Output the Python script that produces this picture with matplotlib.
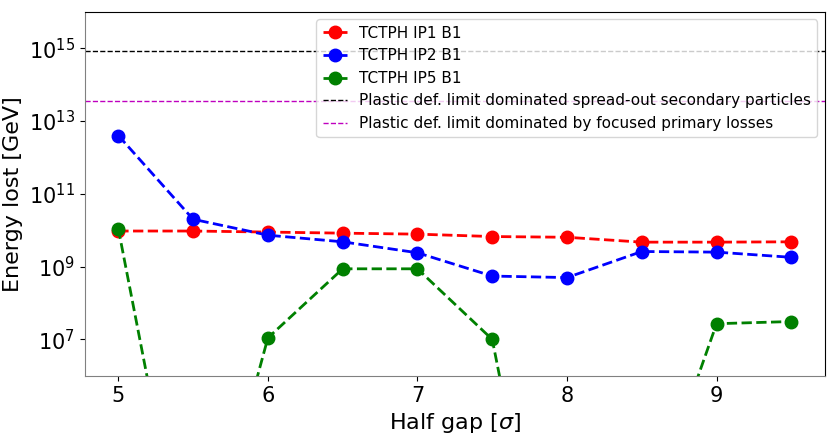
import matplotlib
matplotlib.use('Agg')
import matplotlib.pyplot as plt

half_gap = [5.0, 5.5, 6.0, 6.5, 7.0, 7.5, 8.0, 8.5, 9.0, 9.5]

ip1_b1 = [9.5e9, 9.5e9, 8.9e9, 8.3e9, 7.8e9, 6.7e9, 6.4e9, 4.7e9, 4.7e9, 4.8e9]
ip2_b1 = [4.0e12, 2.0e10, 7.3e9, 4.8e9, 2.4e9, 5.5e8, 5.0e8, 2.6e9, 2.5e9, 1.8e9]
ip5_b1 = [1.1e10, 0.3, 1.1e7, 8.7e8, 8.7e8, 1.0e7, 5e-4, 40.0, 2.7e7, 3.1e7]

limit_secondary = 8.5e14
limit_primary = 3.6e13

fig = plt.figure(figsize=(8.3, 4.38), dpi=100)
ax = fig.add_axes([0.102, 0.142, 0.892, 0.831])

ax.plot(half_gap, ip1_b1, 'o--', color='red', lw=2, ms=9, label='TCTPH IP1 B1')
ax.plot(half_gap, ip2_b1, 'o--', color='blue', lw=2, ms=9, label='TCTPH IP2 B1')
ax.plot(half_gap, ip5_b1, 'o--', color='green', lw=2, ms=9, label='TCTPH IP5 B1')
ax.axhline(limit_secondary, color='black', ls='--', lw=1,
           label='Plastic def. limit dominated spread-out secondary particles')
ax.axhline(limit_primary, color='m', ls='--', lw=1,
           label='Plastic def. limit dominated by focused primary losses')

ax.set_yscale('log')
ax.set_ylim(1e6, 1e16)
ax.set_xlim(4.775, 9.725)
ax.set_yticks([1e7, 1e9, 1e11, 1e13, 1e15])
ax.minorticks_off()
ax.tick_params(labelsize=15)
ax.set_xlabel(r'Half gap [$\sigma$]', fontsize=16)
ax.set_ylabel('Energy lost [GeV]', fontsize=16)
for s in ['left', 'bottom']:
    ax.spines[s].set_color('gray')
ax.legend(loc='upper right', fontsize=11, handlelength=1.6)

fig.savefig('out.png', dpi=100)
